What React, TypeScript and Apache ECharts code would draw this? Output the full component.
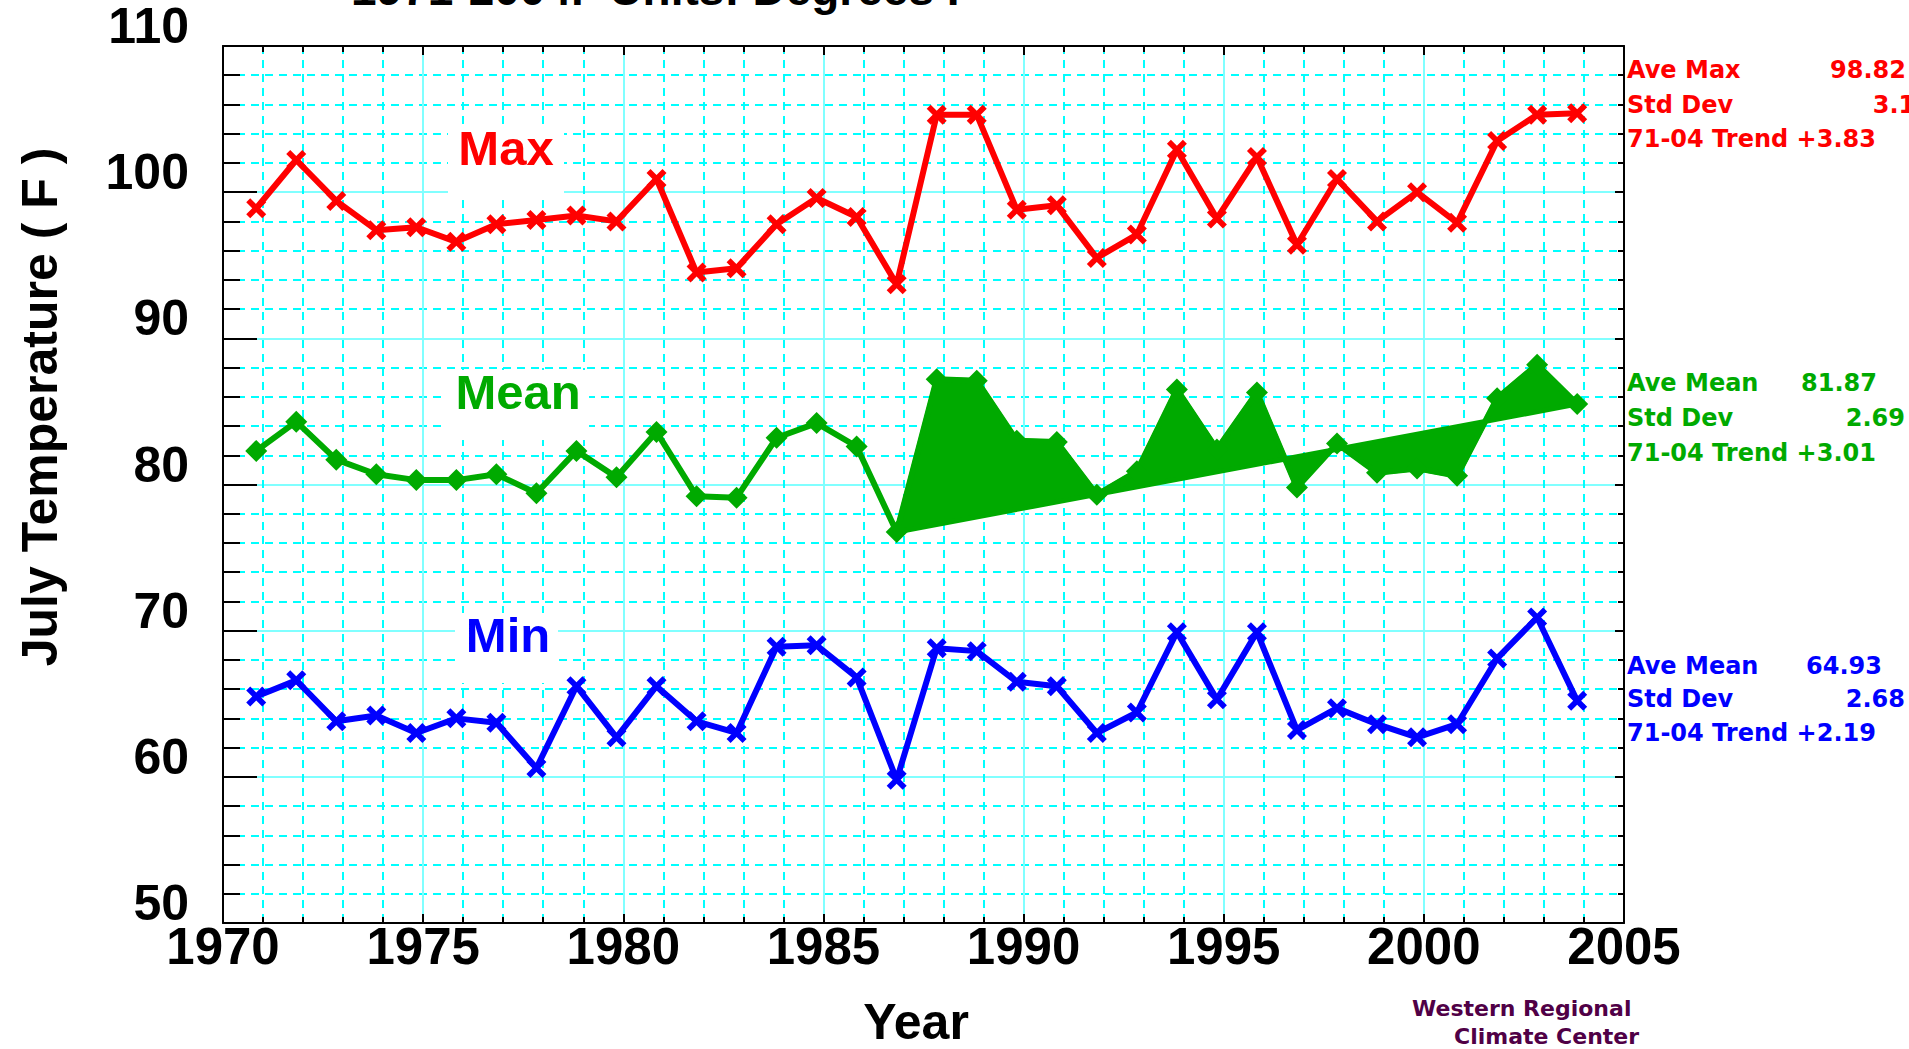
import React, { useEffect, useRef } from "react";
import * as echarts from "echarts";

// ---------- data ----------
const years = [
  1971, 1972, 1973, 1974, 1975, 1976, 1977, 1978, 1979, 1980,
  1981, 1982, 1983, 1984, 1985, 1986, 1987, 1988, 1989, 1990,
  1991, 1992, 1993, 1994, 1995, 1996, 1997, 1998, 1999, 2000,
  2001, 2002, 2003, 2004,
];
const maxTemps = [
  98.9, 102.2, 99.4, 97.4, 97.6, 96.6, 97.8, 98.1, 98.4, 98.0,
  100.9, 94.5, 94.8, 97.8, 99.6, 98.3, 93.7, 105.3, 105.3, 98.8,
  99.1, 95.5, 97.1, 102.9, 98.2, 102.4, 96.4, 100.9, 98.0, 100.0,
  97.9, 103.5, 105.3, 105.4,
];
const meanTemps = [
  82.3, 84.3, 81.7, 80.7, 80.3, 80.3, 80.7, 79.4, 82.3, 80.5,
  83.6, 79.2, 79.1, 83.2, 84.2, 82.6, 76.75, 87.2, 87.1, 83.0,
  82.9, 79.3, 80.9, 86.5, 82.4, 86.3, 79.8, 82.8, 80.8, 81.1,
  80.6, 85.9, 88.2, 85.5,
];
const minTemps = [
  65.5, 66.6, 63.8, 64.2, 63.0, 64.0, 63.7, 60.6, 66.2, 62.7,
  66.2, 63.8, 63.0, 68.9, 69.0, 66.8, 59.8, 68.8, 68.6, 66.5,
  66.2, 63.0, 64.4, 69.9, 65.3, 69.9, 63.2, 64.7, 63.6, 62.7,
  63.6, 68.1, 70.9, 65.2,
];
const fillStartYear = 1987;
// the original plots each July slightly before the year's grid line
const plotYearOffset = -0.17;

const xMin = 1970;
const xMax = 2005;
const xStep = 5;
const yMin = 50;
const yMax = 110;
const yStep = 10;

const titleText = "1971-2004.  Units: Degrees F";
const yTitle = "July Temperature ( F )";
const xTitle = "Year";
const seriesLabels = ["Max", "Mean", "Min"];
const maxStats = [["Ave Max", "98.82"], ["Std Dev", "3.14"], ["71-04 Trend +3.83", ""]];
const meanStats = [["Ave Mean", "81.87"], ["Std Dev", "2.69"], ["71-04 Trend +3.01", ""]];
const minStats = [["Ave Mean", "64.93"], ["Std Dev", "2.68"], ["71-04 Trend +2.19", ""]];
const creditLines = ["Western Regional", "Climate Center"];

// ---------- styles ----------
const RED = "#ff0000";
const GREEN = "#00aa00";
const BLUE = "#0000ff";
const PURPLE = "#500046";
const FONT = '"Liberation Sans", Arial, Helvetica, sans-serif';
const WIDE_FONT = '"DejaVu Sans", "Liberation Sans", sans-serif';
const X_PATH = "path://M0,2L2,0L5,3L8,0L10,2L7,5L10,8L8,10L5,7L2,10L0,8L3,5Z";

function txt(text: string, x: number, y: number, size: number, color: string, align = "left", extra: any = {}, family = FONT) {
  return {
    type: "text",
    x,
    y,
    z: 5,
    silent: true,
    ...extra,
    style: {
      text,
      fill: color,
      fontSize: size,
      fontWeight: "bold",
      fontFamily: family,
      lineHeight: size,
      align,
      textAlign: align,
      verticalAlign: "middle",
      textVerticalAlign: "middle",
    },
  };
}

function box(x: number, y: number, w: number, h: number) {
  return {
    type: "rect",
    z: 1,
    silent: true,
    shape: { x, y, width: w, height: h },
    style: { fill: "#ffffff" },
  };
}

function statBlock(rows: string[][], color: string, centers: number[], valueRights: number[]) {
  const out: any[] = [];
  rows.forEach((r, i) => {
    out.push(txt(r[0], 1627, centers[i], 24, color, "left", {}, WIDE_FONT));
    if (r[1]) out.push(txt(r[1], valueRights[i], centers[i], 24, color, "right", {}, WIDE_FONT));
  });
  return out;
}

export default function App() {
  const ref = useRef<HTMLDivElement>(null);

  useEffect(() => {
    if (!ref.current) return;
    const chart = echarts.init(ref.current, undefined, { renderer: "svg" });

    const pairs = (vals: number[]) => years.map((y, i) => [y + plotYearOffset, vals[i]]);
    const startIdx = years.indexOf(fillStartYear);
    const fillYears = years.slice(startIdx).map((y) => y + plotYearOffset);
    const fillValues = meanTemps.slice(startIdx);

    const black = { color: "#000", width: 2 };

    const gridX = {
      type: "value", gridIndex: 0, position: "bottom", min: xMin, max: xMax, interval: xStep, z: 0,
      axisLine: { show: false }, axisTick: { show: false }, axisLabel: { show: false },
      minorTick: { show: false, splitNumber: 5 },
      splitLine: { show: true, showMinLine: false, showMaxLine: false, lineStyle: { color: "#80ffff", width: 2 } },
      minorSplitLine: { show: true, lineStyle: { color: "#00ffff", width: 2, type: [8, 6] } },
    };
    const gridY = {
      type: "value", gridIndex: 0, position: "left", min: yMin, max: yMax, interval: yStep, z: 0,
      axisLine: { show: false }, axisTick: { show: false }, axisLabel: { show: false },
      minorTick: { show: false, splitNumber: 5 },
      splitLine: { show: true, showMinLine: false, showMaxLine: false, lineStyle: { color: "#80ffff", width: 2 } },
      minorSplitLine: { show: true, lineStyle: { color: "#00ffff", width: 2, type: [8, 6] } },
    };
    const frameX = (pos: string, labels: boolean) => ({
      type: "value", gridIndex: 0, position: pos, min: xMin, max: xMax, interval: xStep, z: 1,
      axisLine: { show: true, onZero: false, lineStyle: black },
      axisTick: { show: true, inside: true, length: 9, lineStyle: black },
      minorTick: { show: true, splitNumber: 5, length: 6, lineStyle: black },
      axisLabel: labels
        ? {
            show: true, margin: 3, fontSize: 51, fontWeight: "bold", fontFamily: FONT, color: "#000",
            lineHeight: 40, showMinLabel: true, showMaxLabel: true, formatter: (v: number) => String(v),
          }
        : { show: false },
      splitLine: { show: false },
    });
    const frameY = (pos: string, labels: boolean) => ({
      type: "value", gridIndex: 0, position: pos, min: yMin, max: yMax, interval: yStep, z: 1,
      axisLine: { show: true, onZero: false, lineStyle: black },
      axisTick: { show: true, inside: true, length: labels ? 34 : 9, lineStyle: black },
      minorTick: { show: true, splitNumber: 5, length: labels ? 17 : 6, lineStyle: black },
      axisLabel: labels
        ? {
            show: true, margin: 34, fontSize: 50, fontWeight: "bold", fontFamily: FONT, color: "#000",
            lineHeight: 40, verticalAlign: "bottom", showMinLabel: true, showMaxLabel: true,
          }
        : { show: false },
      splitLine: { show: false },
    });

    const option: any = {
      animation: false,
      backgroundColor: "#ffffff",
      grid: { left: 223, right: 285, top: 46, bottom: 126, containLabel: false, outerBoundsMode: "none" },
      xAxis: [gridX, frameX("bottom", true), frameX("top", false)],
      yAxis: [gridY, frameY("left", true), frameY("right", false)],
      series: [
        {
          type: "custom",
          name: "MeanFill",
          xAxisIndex: 0,
          yAxisIndex: 0,
          z: 2,
          silent: true,
          clip: false,
          data: [[fillYears[0], fillValues[0]]],
          renderItem: (_p: any, api: any) => {
            const pts = fillYears.map((yr, i) => api.coord([yr, fillValues[i]]));
            return {
              type: "polygon",
              shape: { points: pts },
              style: { fill: GREEN, stroke: GREEN, lineWidth: 5, lineJoin: "round" },
            };
          },
        },
        {
          type: "line", name: "Max", xAxisIndex: 0, yAxisIndex: 0, z: 3, silent: true,
          data: pairs(maxTemps),
          lineStyle: { color: RED, width: 6 }, itemStyle: { color: RED },
          symbol: X_PATH, symbolSize: 20, emphasis: { disabled: true },
        },
        {
          type: "line", name: "Mean", xAxisIndex: 0, yAxisIndex: 0, z: 3, silent: true,
          data: pairs(meanTemps),
          lineStyle: { color: GREEN, width: 6 }, itemStyle: { color: GREEN },
          symbol: "diamond", symbolSize: 22, emphasis: { disabled: true },
        },
        {
          type: "line", name: "Min", xAxisIndex: 0, yAxisIndex: 0, z: 3, silent: true,
          data: pairs(minTemps),
          lineStyle: { color: BLUE, width: 6 }, itemStyle: { color: BLUE },
          symbol: X_PATH, symbolSize: 20, emphasis: { disabled: true },
        },
      ],
      graphic: {
        elements: [
          txt(titleText, 351, -11, 46, "#000"),
          txt(yTitle, 40, 407, 50, "#000", "center", { rotation: Math.PI / 2 }),
          txt(xTitle, 916, 1022, 50, "#000", "center"),
          box(448, 127, 116, 72),
          txt(seriesLabels[0], 506, 148, 49, RED, "center"),
          box(444, 370, 145, 70),
          txt(seriesLabels[1], 518, 392, 49, GREEN, "center"),
          box(455, 613, 103, 70),
          txt(seriesLabels[2], 508, 635, 49, BLUE, "center"),
          ...statBlock(maxStats, RED, [70, 105, 139], [1906, 1932, 0]),
          ...statBlock(meanStats, GREEN, [383, 418, 453], [1877, 1905, 0]),
          ...statBlock(minStats, BLUE, [666, 699, 733], [1882, 1905, 0]),
          txt(creditLines[0], 1412, 1008, 22, PURPLE, "left", {}, WIDE_FONT),
          txt(creditLines[1], 1454, 1036, 22, PURPLE, "left", {}, WIDE_FONT),
        ],
      },
    };

    chart.setOption(option);
    return () => chart.dispose();
  }, []);

  return (
    <div
      ref={ref}
      style={{ position: "absolute", left: 0, top: 0, width: 1909, height: 1049, background: "#fff" }}
    />
  );
}
